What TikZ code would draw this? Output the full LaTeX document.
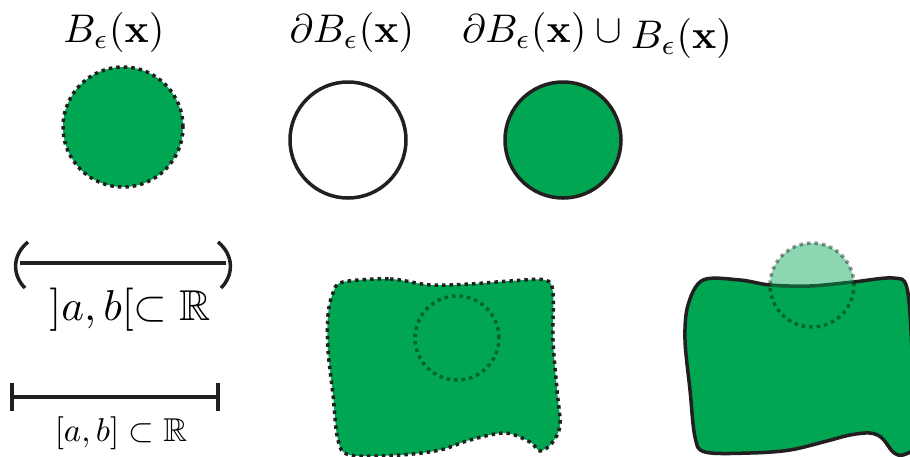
\documentclass[tikz,border=0pt]{standalone}
\usepackage{amsmath,amssymb}
\usetikzlibrary{calc}
\definecolor{ink}{HTML}{231F20}
\definecolor{leaf}{HTML}{00A651}

\begin{document}
\begin{tikzpicture}[x=1pt,y=-1pt,line width=3.5pt,
  bigmath/.style={scale=4},
  smallmath/.style={scale=3.3},
  dots/.style={line width=3.5pt,dash pattern=on 3.5pt off 4pt},
  ghost/.style={draw=black,draw opacity=.4,dots}]
  \useasboundingbox (0,0) rectangle (910,456);
  \clip (0,0) rectangle (910,456);
  \node[bigmath,anchor=base] (ball) at (114,42) {$B_\epsilon(\mathbf{x})$};
  \node[bigmath,anchor=base] (rim) at (352,42) {$\partial B_\epsilon(\mathbf{x})$};
  \node[bigmath,anchor=base west,inner sep=0pt] (closure) at (455,42)
    {$\partial B_\epsilon(\mathbf{x})\cup\raisebox{-1.5pt}{$B_\epsilon(\mathbf{x})$}$};
  \coordinate (c1) at (123,127); \coordinate (c2) at (348,140); \coordinate (c3) at (563,140);
  \fill[leaf] (c1) circle (60pt);
  \draw[ink,dots] (c1) circle (60pt);
  \draw[ink] (c2) circle (58pt);
  \draw[ink,fill=leaf] (c3) circle (58pt);
  \coordinate (oa) at (20,263); \coordinate (ob) at (226,263);
  \draw[ink] (oa) -- (ob);
  \draw[ink] ($(oa)+(8,-21)$) .. controls ($(oa)+(-8,-8)$) and ($(oa)+(-8,12)$) .. ($(oa)+(5,25)$);
  \draw[ink] ($(ob)+(-8,-21)$) .. controls ($(ob)+(8,-8)$) and ($(ob)+(8,12)$) .. ($(ob)+(-5,25)$);
  \node[bigmath,scale=1.08,anchor=base] (open) at (130,320) {$]a,b[\subset\mathbb{R}$};
  \coordinate (ca) at (12,397); \coordinate (cb) at (218,397);
  \draw[ink] (ca) -- (cb);
  \draw[ink] ($(ca)+(0,-14)$) -- ($(ca)+(0,14)$);
  \draw[ink] ($(cb)+(0,-14)$) -- ($(cb)+(0,14)$);
  \node[smallmath,anchor=base] (closed) at (121,441) {$[a,b]\subset\mathbb{R}$};
  \fill[leaf] plot[smooth cycle,tension=.55] coordinates {(343,282) (390,279) (430,285)
    (470,284) (510,281) (545,280) (553,293) (553,340) (557,390) (560,425) (552,443)
    (540,451) (530,442) (505,433) (470,440) (440,450) (400,455) (350,455) (338,440)
    (333,395) (328,350) (328,315) (333,293)};
  \draw[ink,dots] plot[smooth cycle,tension=.55] coordinates {(343,282) (390,279) (430,285)
    (470,284) (510,281) (545,280) (553,293) (553,340) (557,390) (560,425) (552,443)
    (540,451) (530,442) (505,433) (470,440) (440,450) (400,455) (350,455) (338,440)
    (333,395) (328,350) (328,315) (333,293)};
  \draw[ghost] (457,338) circle (42pt);
  \draw[ink,fill=leaf] plot[smooth cycle,tension=.55] coordinates {(703,280) (740,280)
    (770,285) (810,286) (853,282) (893,278) (907,288) (912,350) (915,420) (918,445)
    (903,455) (893,452) (882,438) (870,433) (850,435) (827,441) (790,450) (750,453)
    (705,452) (695,437) (690,390) (685,340) (688,305)};
  \draw[ghost,fill=leaf,fill opacity=.45] (812,285) circle (42pt);
\end{tikzpicture}
\end{document}
